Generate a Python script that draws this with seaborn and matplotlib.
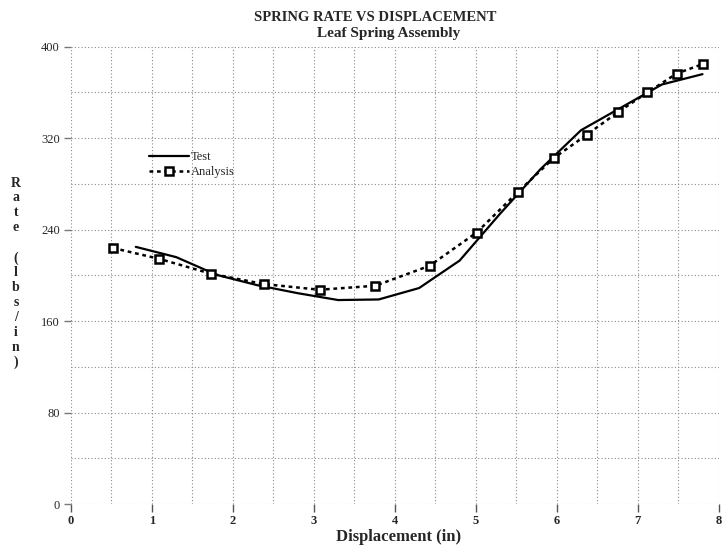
import matplotlib
matplotlib.use("Agg")
import matplotlib.pyplot as plt
from matplotlib.ticker import MultipleLocator
import seaborn as sns
import pandas as pd

# Measured spring rate (test rig)
test_disp = [0.8, 1.3, 1.8, 2.3, 2.8, 3.3, 3.8, 4.3, 4.8, 5.3, 5.8, 6.3, 6.8, 7.3, 7.8]
test_rate = [225, 216, 200.5, 191.5, 184.5, 178.5, 179, 189, 213, 254, 293, 327, 347, 367, 376]

# FE analysis prediction
analysis_disp = [0.52, 1.09, 1.73, 2.38, 3.07, 3.76, 4.43, 5.01, 5.52, 5.96, 6.37, 6.76, 7.12, 7.48, 7.81]
analysis_rate = [224, 214.5, 201.5, 192.5, 187.5, 191, 208.5, 237.5, 273, 302.5, 323, 343, 360, 376.5, 385]

x_ticks = [0, 1, 2, 3, 4, 5, 6, 7, 8]
y_ticks = [0, 80, 160, 240, 320, 400]

test_df = pd.DataFrame({"Displacement": test_disp, "Rate": test_rate})
analysis_df = pd.DataFrame({"Displacement": analysis_disp, "Rate": analysis_rate})

sns.set_theme(style="white")
plt.rcParams["font.family"] = ["Liberation Serif", "DejaVu Serif"]

fig = plt.figure(figsize=(7.23, 5.48), dpi=100)
ax = fig.add_axes([71 / 723, 1 - 504.2 / 548, 647.7 / 723, 457.5 / 548])

sns.lineplot(data=test_df, x="Displacement", y="Rate", ax=ax, color="black",
             linewidth=1.6, label="Test", sort=False)
sns.lineplot(data=analysis_df, x="Displacement", y="Rate", ax=ax, color="black",
             linewidth=1.8, linestyle=(0, (1.5, 1.5)), marker="s", markersize=6,
             markerfacecolor="white", markeredgecolor="black", markeredgewidth=1.8,
             label="Analysis", sort=False)

ax.set_xlim(0, 8)
ax.set_ylim(0, 400)
ax.set_xticks(x_ticks)
ax.set_yticks(y_ticks)
ax.xaxis.set_minor_locator(MultipleLocator(0.5))
ax.yaxis.set_minor_locator(MultipleLocator(40))
ax.grid(True, which="both", color="#8a8a8a", linestyle=(0, (1, 2)), linewidth=0.8)
for s in ax.spines.values():
    s.set_visible(False)

ax.tick_params(axis="x", which="major", bottom=True, direction="out", length=6,
               width=1, color="#555555", pad=2, labelsize=9)
ax.tick_params(axis="y", which="major", left=True, direction="out", length=5,
               width=1, color="#777777", pad=3, labelsize=9)
ax.tick_params(which="minor", length=0)
for lbl in ax.get_xticklabels():
    lbl.set_fontweight("bold")

ax.set_xlabel("Displacement (in)", fontsize=12, fontweight="bold", va="center")
ax.xaxis.set_label_coords((399 - 71) / 647.7, (504.2 - 537) / 457.5)
ax.set_ylabel("R\na\nt\ne\n\n(\nl\nb\ns\n/\ni\nn\n)", rotation=0, fontsize=10,
              fontweight="bold", linespacing=1.19, va="center", ha="center")
ax.yaxis.set_label_coords(-55 / 647.7, (504.2 - 273) / 457.5)

fig.text(375 / 723, 1 - 17.5 / 548, "SPRING RATE VS DISPLACEMENT", ha="center",
         va="center", fontsize=10.5, fontweight="bold")
fig.text(389 / 723, 1 - 33.5 / 548, "Leaf Spring Assembly", ha="center",
         va="center", fontsize=11, fontweight="bold")

leg = ax.legend(loc="upper left", bbox_to_anchor=(0.113, 0.782), frameon=False,
                fontsize=9, handlelength=3.2, handletextpad=0.15,
                labelspacing=0.2, borderaxespad=0, numpoints=1)

fig.savefig("out.png", dpi=100)
